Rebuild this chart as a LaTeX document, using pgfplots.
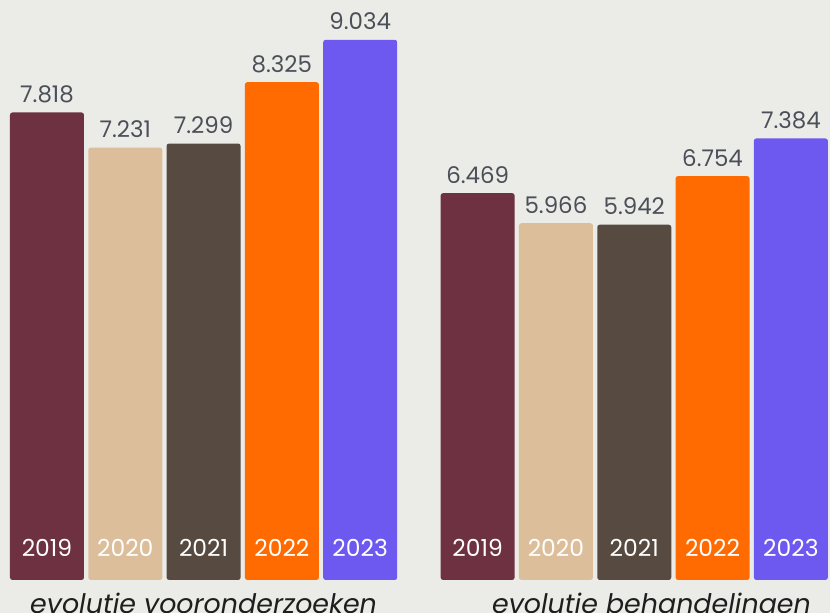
\documentclass[border=0pt]{standalone}
\usepackage{pgfplots}
\pgfplotsset{compat=1.18}
\usetikzlibrary{backgrounds}
\usepackage{fontspec}
\setmainfont{Poppins}
\definecolor{bg}{HTML}{EBEBE7}
\definecolor{cA}{HTML}{6E3142}
\definecolor{cB}{HTML}{DDBE9B}
\definecolor{cC}{HTML}{574A40}
\definecolor{cD}{HTML}{FF6B00}
\definecolor{cE}{HTML}{6E59F0}
\definecolor{valtxt}{HTML}{4B4F58}
\definecolor{grptxt}{HTML}{1E1E1E}
\tikzset{yrlab/.style={anchor=base, text=white, font=\fontsize{23.5}{27}\selectfont}}
\begin{document}
\begin{tikzpicture}
\begin{axis}[
  scale only axis, width=830bp, height=613bp,
  hide axis, clip=false,
  xmin=-0.6, xmax=10.0, ymin=-552, ymax=9699,
  ybar, bar shift=0pt, bar width=0.945,
  every axis plot/.append style={draw=none, rounded corners=2.5bp},
  nodes near coords,
  /pgf/number format/assume math mode=true,
  /pgf/number format/.cd, 1000 sep={.}, fixed, precision=0,
  /pgfplots/.cd,
  every node near coord/.append style={font=\fontsize{23}{26}\selectfont, text=valtxt, anchor=base, yshift=10bp, rounded corners=0pt},
]
\addplot[fill=cA] coordinates {(0,7818) (5.5,6469)};
\addplot[fill=cB] coordinates {(1,7231) (6.5,5966)};
\addplot[fill=cC] coordinates {(2,7299) (7.5,5942)};
\addplot[fill=cD] coordinates {(3,8325) (8.5,6754)};
\addplot[fill=cE] coordinates {(4,9034) (9.5,7384)};
\coordinate (bl) at (rel axis cs:0,0);
\coordinate (tr) at (rel axis cs:1,1);
\node[yrlab] at (axis cs:0,401) {2019};
\node[yrlab] at (axis cs:1,401) {2020};
\node[yrlab] at (axis cs:2,401) {2021};
\node[yrlab] at (axis cs:3,401) {2022};
\node[yrlab] at (axis cs:4,401) {2023};
\node[yrlab] at (axis cs:5.5,401) {2019};
\node[yrlab] at (axis cs:6.5,401) {2020};
\node[yrlab] at (axis cs:7.5,401) {2021};
\node[yrlab] at (axis cs:8.5,401) {2022};
\node[yrlab] at (axis cs:9.5,401) {2023};
\node[anchor=base, text=grptxt, font=\fontsize{27}{30}\selectfont\itshape] at (axis cs:2,-560) {evolutie vooronderzoeken};
\node[anchor=base, text=grptxt, font=\fontsize{27}{30}\selectfont\itshape] at (axis cs:7.72,-560) {evolutie behandelingen};
\end{axis}
\begin{scope}[on background layer]
\fill[bg] (bl) rectangle (tr);
\end{scope}
\pgfresetboundingbox
\useasboundingbox (bl) rectangle (tr);
\end{tikzpicture}
\end{document}
